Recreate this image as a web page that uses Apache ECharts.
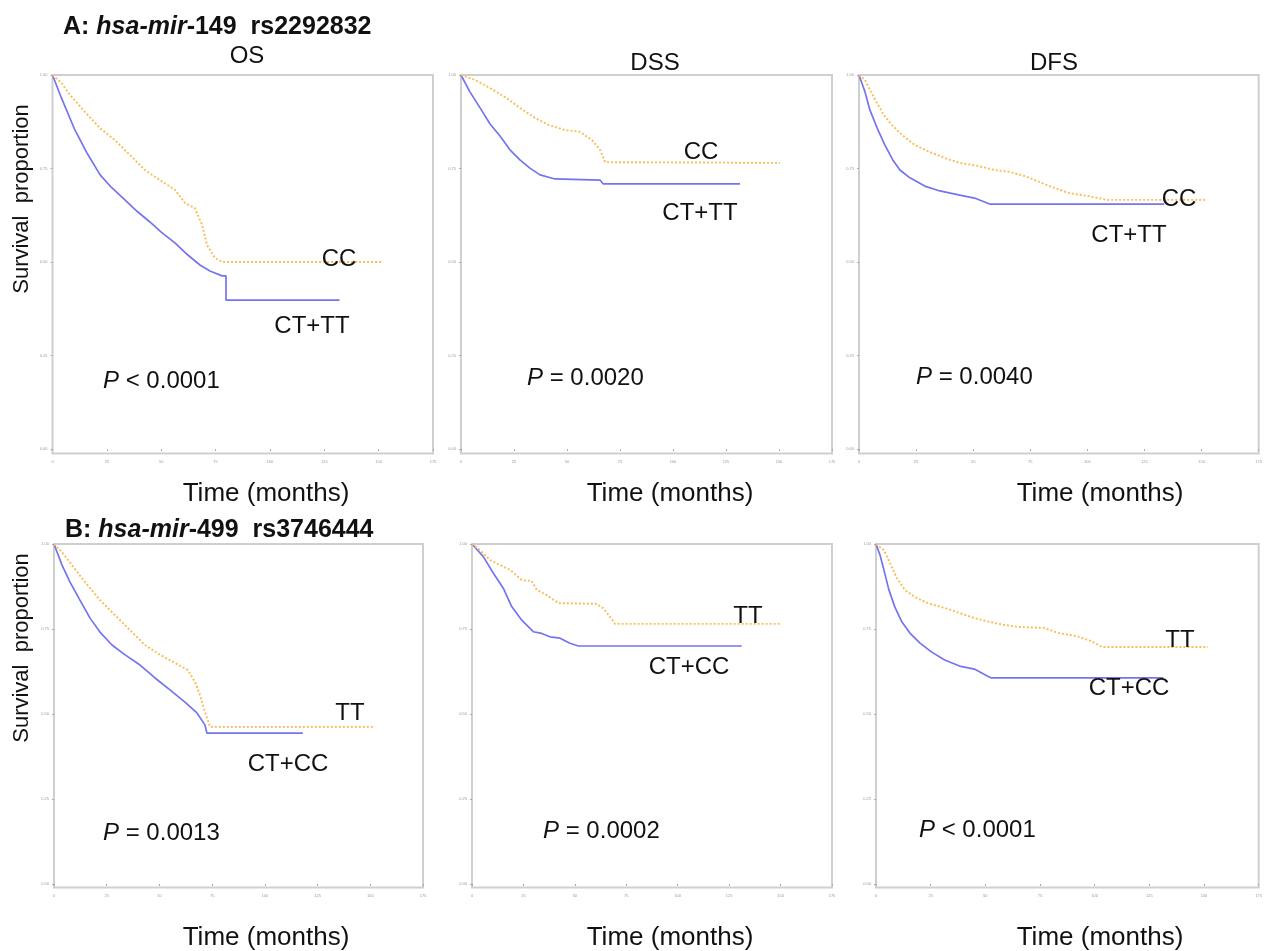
<!DOCTYPE html>
<html>
<head>
<meta charset="utf-8">
<script src="https://cdn.jsdelivr.net/npm/echarts@6/dist/echarts.min.js"></script>
<style>html,body{margin:0;padding:0;background:#fff}#c{width:1265px;height:951px}</style>
</head>
<body>
<div id="c"></div>
<script>
// ---- tick labels ----
const xTicks = [0, 25, 50, 75, 100, 125, 150, 175];
const yTicks = [0, 0.25, 0.5, 0.75, 1];

// ---- A: hsa-mir-149 rs2292832 (time in months, survival proportion) ----
const osA_CC = [[0,1],[4,0.98],[8,0.947],[15,0.901],[21.8,0.858],[28.7,0.826],[35.6,0.786],[42.5,0.746],[49.4,0.719],[56.3,0.693],[60.9,0.658],[65.5,0.644],[68.8,0.599],[71.1,0.545],[74.7,0.511],[78,0.5],[152,0.5]];
const osA_CTTT = [[0,1],[4,0.94],[10.3,0.853],[16,0.79],[21.9,0.733],[27,0.70],[33.3,0.666],[39,0.635],[44.8,0.607],[50,0.58],[56.3,0.551],[62,0.52],[67.8,0.492],[72.4,0.476],[78,0.463],[79.8,0.463],[79.8,0.398],[132,0.398]];
const dssA_CC = [[0,1],[6.6,0.987],[13.7,0.965],[20.8,0.941],[27.8,0.912],[34.9,0.885],[41.5,0.866],[49,0.853],[56.1,0.848],[61.8,0.826],[65.6,0.8],[68,0.767],[150.5,0.765]];
const dssA_CTTT = [[0,1],[4.2,0.955],[9,0.912],[13.7,0.869],[18.4,0.837],[23.1,0.8],[27.8,0.773],[32.5,0.751],[37.3,0.733],[44.3,0.722],[65.6,0.719],[67,0.709],[131.6,0.709]];
const dfsA_CC = [[0,1],[2.6,0.987],[4.8,0.96],[7.9,0.925],[10.9,0.893],[14.4,0.866],[18.8,0.84],[24.4,0.813],[31,0.794],[37.5,0.778],[44.1,0.765],[51.9,0.757],[59.4,0.746],[65.9,0.741],[72.5,0.73],[79,0.714],[85.6,0.698],[92.1,0.684],[100.8,0.676],[108.7,0.666],[152.3,0.666]];
const dfsA_CTTT = [[0,1],[2.6,0.955],[4.8,0.906],[8.3,0.853],[11.3,0.813],[14.8,0.773],[17.9,0.746],[22.3,0.725],[28.8,0.703],[35.4,0.69],[44.1,0.679],[50.6,0.671],[57.2,0.655],[133.6,0.655]];

// ---- B: hsa-mir-499 rs3746444 ----
const osB_TT = [[0,1],[3.8,0.976],[8.5,0.938],[14.7,0.888],[21.8,0.835],[28.9,0.791],[36,0.747],[43.1,0.703],[50.3,0.674],[57.4,0.65],[63.5,0.629],[66.9,0.594],[69.2,0.556],[71.6,0.506],[74,0.462],[151.3,0.462]];
const osB_CTCC = [[0,1],[3.8,0.938],[7.6,0.888],[12.3,0.835],[17.1,0.782],[21.8,0.741],[27.5,0.703],[33.7,0.674],[40.8,0.644],[47.9,0.606],[55,0.571],[62.1,0.535],[67.8,0.503],[71.6,0.468],[72.5,0.444],[118,0.444]];
const dssB_TT = [[0,1],[3.9,0.982],[8.8,0.953],[13.6,0.938],[18.5,0.924],[24.2,0.894],[29,0.891],[31.5,0.865],[36.3,0.85],[42,0.826],[60.6,0.824],[63.8,0.811],[67.1,0.786],[69.5,0.765],[150.6,0.765]];
const dssB_CTCC = [[0,1],[5.5,0.963],[10.4,0.914],[15.2,0.87],[19.3,0.816],[24.2,0.776],[29.8,0.742],[33.9,0.737],[37.9,0.727],[42.8,0.723],[47.6,0.708],[51.7,0.7],[131.1,0.7]];
const dfsB_TT = [[0,1],[3.6,0.982],[6.4,0.944],[9.5,0.9],[13.2,0.865],[17.7,0.844],[24.5,0.824],[31.4,0.812],[38.2,0.797],[45,0.782],[51.8,0.771],[58.6,0.762],[65.5,0.756],[76.8,0.753],[83.6,0.738],[91.8,0.729],[98.2,0.715],[103.6,0.697],[151.8,0.697]];
const dfsB_CTCC = [[0,1],[1.8,0.968],[3.6,0.924],[5.9,0.865],[8.6,0.815],[11.8,0.771],[15.5,0.738],[20,0.709],[25.5,0.682],[31.4,0.659],[38.2,0.641],[45,0.632],[50.9,0.612],[52.7,0.606],[131.4,0.606]];

const panelNames = ['OS', 'DSS', 'DFS'];
const orangeSeries = [osA_CC, dssA_CC, dfsA_CC, osB_TT, dssB_TT, dfsB_TT];
const blueSeries = [osA_CTTT, dssA_CTTT, dfsA_CTTT, osB_CTCC, dssB_CTCC, dfsB_CTCC];

// panel geometry: [left px of t=0, right px of t=175, top px (S=1), bottom px of S=0, yMin]
const panels = [
  [52.5, 433, 75, 449, -0.012],
  [461, 832, 75, 449, -0.012],
  [859, 1260, 75, 449, -0.012],
  [54, 423, 544, 884, -0.01],
  [472, 832, 544, 884, -0.01],
  [876, 1261, 544, 884, -0.01]
];

const BLUE = '#7474f0';
const ORANGE = '#f8bd55';
const FONT = '"Liberation Sans", Arial, sans-serif';

const grids = [], xAxes = [], yAxes = [], series = [];
panels.forEach((p, i) => {
  const [l, r, t, b, ymin] = p;
  const h = (b - t) * (1 - ymin);
  grids.push({left: l, top: t, width: r - l, height: h, show: true, borderColor: '#cfcfcf', borderWidth: 2, backgroundColor: '#fff', containLabel: false});
  xAxes.push({
    type: 'value', gridIndex: i, min: 0, max: 175,
    axisLine: {show: false}, splitLine: {show: false},
    axisTick: {show: true, length: 2, lineStyle: {color: '#aaa'}, customValues: xTicks},
    axisLabel: {fontSize: 4, color: '#999', margin: 6, fontFamily: FONT, customValues: xTicks}
  });
  yAxes.push({
    type: 'value', gridIndex: i, min: ymin, max: 1,
    axisLine: {show: false}, splitLine: {show: false},
    axisTick: {show: true, length: 2, lineStyle: {color: '#aaa'}, customValues: yTicks},
    axisLabel: {fontSize: 4, color: '#999', margin: 5, fontFamily: FONT, customValues: yTicks, formatter: v => v.toFixed(2)}
  });
  series.push({type: 'line', xAxisIndex: i, yAxisIndex: i, data: blueSeries[i], showSymbol: false, symbol: 'none', lineStyle: {color: BLUE, width: 1.7}, z: 2, animation: false});
  series.push({type: 'line', xAxisIndex: i, yAxisIndex: i, data: orangeSeries[i], showSymbol: false, symbol: 'none', lineStyle: {color: ORANGE, width: 1.9, type: [2, 2]}, z: 3, animation: false});
});

function txt(x, y, s, size) {
  return {type: 'text', x: x, y: y, z: 100, style: {text: s, fill: '#111', font: (size || 24) + 'px ' + FONT, textAlign: 'center', textVerticalAlign: 'middle'}};
}
function ptxt(x, y, rest) {
  return {type: 'text', x: x, y: y, z: 100, style: {
    text: '{i|P}{n|' + rest + '}', textAlign: 'left', textVerticalAlign: 'middle',
    rich: {i: {fontStyle: 'italic', fontSize: 24, fontFamily: FONT, fill: '#111'}, n: {fontSize: 24, fontFamily: FONT, fill: '#111'}}
  }};
}
function title(x, y, pre, gene, post) {
  return {type: 'text', x: x, y: y, z: 100, style: {
    text: '{b|' + pre + '}{bi|' + gene + '}{b|' + post + '}', textAlign: 'left', textVerticalAlign: 'middle',
    rich: {b: {fontWeight: 'bold', fontSize: 25, fontFamily: FONT, fill: '#111'}, bi: {fontWeight: 'bold', fontStyle: 'italic', fontSize: 25, fontFamily: FONT, fill: '#111'}}
  }};
}
function vtxt(x, y, s) {
  const t = txt(x, y, s, 22);
  t.rotation = Math.PI / 2;
  return t;
}

const graphics = [
  title(63, 27, 'A: ', 'hsa-mir', '-149  rs2292832'),
  title(65, 530, 'B: ', 'hsa-mir', '-499  rs3746444'),
  txt(247, 56, panelNames[0]), txt(655, 63, panelNames[1]), txt(1054, 63, panelNames[2]),
  vtxt(22, 199, 'Survival  proportion'),
  vtxt(22, 648, 'Survival  proportion'),
  txt(266, 494, 'Time (months)', 26), txt(670, 494, 'Time (months)', 26), txt(1100, 494, 'Time (months)', 26),
  txt(266, 938, 'Time (months)', 26), txt(670, 938, 'Time (months)', 26), txt(1100, 938, 'Time (months)', 26),
  txt(339, 259, 'CC'), txt(312, 326, 'CT+TT'), ptxt(103, 381, ' < 0.0001'),
  txt(701, 152, 'CC'), txt(700, 213, 'CT+TT'), ptxt(527, 378, ' = 0.0020'),
  txt(1179, 199, 'CC'), txt(1129, 235, 'CT+TT'), ptxt(916, 377, ' = 0.0040'),
  txt(350, 713, 'TT'), txt(288, 764, 'CT+CC'), ptxt(103, 833, ' = 0.0013'),
  txt(748, 616, 'TT'), txt(689, 667, 'CT+CC'), ptxt(543, 831, ' = 0.0002'),
  txt(1180, 640, 'TT'), txt(1129, 688, 'CT+CC'), ptxt(919, 830, ' < 0.0001')
];

const chart = echarts.init(document.getElementById('c'), null, {renderer: 'canvas'});
chart.setOption({
  animation: false,
  backgroundColor: '#fff',
  grid: grids, xAxis: xAxes, yAxis: yAxes, series: series,
  graphic: graphics
});
</script>
</body>
</html>
